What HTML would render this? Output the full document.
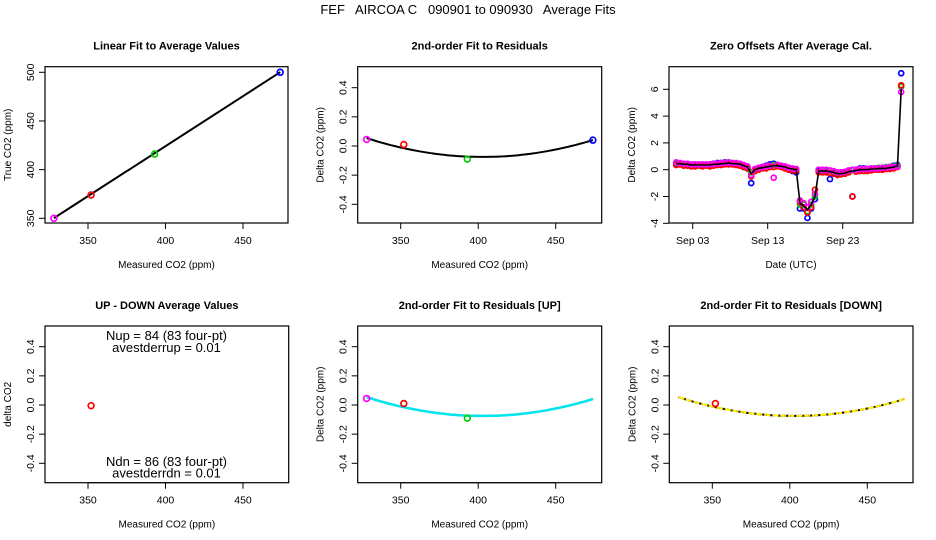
<!DOCTYPE html>
<html><head><meta charset="utf-8">
<style>
html,body{margin:0;padding:0;background:#fff;}
svg{display:block;font-family:"Liberation Sans",Arial,sans-serif;}
</style></head>
<body>
<svg id="chart" width="936" height="540" viewBox="0 0 936 540" xmlns="http://www.w3.org/2000/svg">
<rect width="936" height="540" fill="#fff"/>
<text x="468" y="14" font-size="13" text-anchor="middle" xml:space="preserve">FEF   AIRCOA C   090901 to 090930   Average Fits</text>
</svg>
<script>
// ---- Data ----
const calMeasured = [328, 352, 393, 474];
const calTrue = [350, 374, 416, 500];
const calResid = [0.045, 0.01, -0.09, 0.04];
const calColors = ["#ff00ff", "#ff0000", "#00cc00", "#0000ff"];
const linFit = [13.3, 1.027]; // intercept, slope
const quadFit = [2.3e-5, 403, -0.075]; // a, vertex x, vertex y
const upMeasured = [328, 352, 393];
const upResid = [0.045, 0.01, -0.09];
const dnMeasured = [352];
const dnResid = [0.01];
const udMeasured = [352];
const udDiff = [-0.005];
const co2Ticks = [350, 400, 450];
const trueTicks = [350, 400, 450, 500];
const residTicks = [-0.4, -0.2, 0.0, 0.2, 0.4];
const residTickLabels = ["-0.4", "-0.2", "0.0", "0.2", "0.4"];
const offsetTicks = [-4, -2, 0, 2, 4, 6];
const dateTicks = [3, 13, 23];
const dateTickLabels = ["Sep 03", "Sep 13", "Sep 23"];
const offDays = [0.8,1.3,1.8,2.3,2.8,3.3,3.8,4.3,4.8,5.3,5.8,6.3,6.8,7.3,7.8,8.3,8.8,9.3,9.8,10.3,10.8,11.3,11.8,12.3,12.8,13.3,13.8,14.3,14.8,15.3,15.8,16.3,16.8,17.3,17.8,18.3,18.8,19.3,19.8,20.3,20.8,21.3,21.8,22.3,22.8,23.3,23.8,24.3,24.8,25.3,25.8,26.3,26.8,27.3,27.8,28.3,28.8,29.3,29.8,30.3,30.8];
const offMean = [.45,.45,.4,.4,.35,.35,.35,.35,.35,.35,.4,.4,.45,.45,.5,.45,.45,.4,.3,.2,-.3,0,.1,.15,.2,.25,.3,.3,.25,.2,.1,.05,0,-2.5,-2.7,-3.0,-2.6,-2.0,-.1,-.1,-.1,-.15,-.2,-.3,-.3,-.25,-.15,-.1,-.05,0,0,0,.05,.05,.1,.1,.1,.15,.2,.3,6.0];
const offRed = [.35,.4,.3,.3,.25,.25,.3,.25,.3,.25,.3,.35,.35,.4,.4,.4,.35,.3,.2,.1,-.5,-.1,0,.1,.1,.2,.2,.25,.2,.1,0,-.05,-.1,-2.4,-2.8,-3.2,-2.8,-1.5,-.2,-.2,-.2,-.25,-.3,-.4,-.35,-.3,-.2,-2.0,-.15,-.1,-.1,-.1,-.05,0,0,0,.05,.05,.1,.2,6.3];
const offGreen = [.5,.45,.4,.4,.35,.4,.35,.4,.35,.4,.45,.45,.5,.5,.55,.5,.45,.4,.3,.2,-.2,0,.1,.15,.25,.3,.35,.35,.3,.2,.1,.05,0,-2.6,-2.6,-3.1,-2.6,-2.0,0,0,-.05,-.1,-.15,-.25,-.25,-.2,-.1,-.05,0,.05,.05,.05,.1,.1,.15,.15,.2,.2,.25,.3,6.2];
const offBlue = [.45,.4,.35,.4,.3,.35,.35,.3,.35,.35,.45,.5,.5,.55,.5,.45,.4,.35,.2,.1,-1.0,-.1,.1,.2,.3,.4,.45,.35,.25,.15,.05,-.1,-.2,-2.9,-2.9,-3.6,-2.9,-2.2,-.1,-.15,-.1,-.7,-.2,-.3,-.2,-.2,-.1,-2.0,0,.1,.1,.05,.05,.1,.1,.1,.15,.2,.3,.35,7.2];
const offMagenta = [.55,.5,.45,.45,.4,.4,.4,.4,.4,.4,.45,.45,.5,.5,.55,.5,.5,.45,.35,.25,-.4,.05,.15,.2,.25,.3,-.6,.35,.3,.25,.15,.1,.05,-2.3,-2.5,-2.8,-2.4,-1.8,0,0,0,-.05,-.1,-.2,-.2,-.15,-.05,0,0,.05,.05,.05,.1,.1,.1,.15,.15,.2,.2,.25,5.8];

const svg = document.getElementById('chart');
const NS = "http://www.w3.org/2000/svg";
function mk(tag, attrs, parent) {
  const e = document.createElementNS(NS, tag);
  for (const k in attrs) e.setAttribute(k, attrs[k]);
  (parent || svg).appendChild(e);
  return e;
}
function scale(d0, d1, r0, r1) { return v => r0 + (v - d0) * (r1 - r0) / (d1 - d0); }

function panel(o) {
  const g = mk('g', {});
  
  
  const b = mk('rect', {x:o.L, y:o.T, width:o.R-o.L, height:o.B-o.T, fill:'none', stroke:'#000', 'stroke-width':1.2}, g);
  
  
  const t = mk('text', {x:(o.L+o.R)/2, y:o.T-17, 'font-size':11, 'font-weight':'bold', 'text-anchor':'middle'}, g);
  t.textContent = o.title;
  
  
  const xs = o.xs, ys = o.ys;
  const xa = mk('g', {}, g);
  
  
  mk('line', {x1:xs(o.xt[0]), x2:xs(o.xt[o.xt.length-1]), y1:o.B, y2:o.B, stroke:'#000'}, xa);
  o.xt.forEach((v,i) => {
    mk('line', {x1:xs(v), x2:xs(v), y1:o.B, y2:o.B+6, stroke:'#000'}, xa);
    const tl = mk('text', {x:xs(v), y:o.B+21, 'font-size':10.5, 'text-anchor':'middle'}, xa);
    tl.textContent = o.xl[i];
    
    
  });
  const xt = mk('text', {x:(o.L+o.R)/2, y:o.B+45, 'font-size':10, 'text-anchor':'middle'}, g);
  xt.textContent = o.xlab;
  
  
  const ya = mk('g', {}, g);
  
  
  o.yt.forEach((v,i) => {
    mk('line', {x1:o.L-6, x2:o.L, y1:ys(v), y2:ys(v), stroke:'#000'}, ya);
    const yl = mk('text', {x:o.L-11, y:ys(v), 'font-size':10.5, 'text-anchor':'middle', transform:`rotate(-90 ${o.L-11} ${ys(v)})`}, ya);
    yl.textContent = o.yl[i];
    
    
  });
  const yx = o.L - 34, yy = (o.T+o.B)/2;
  const ytl = mk('text', {x:yx, y:yy, 'font-size':10, 'text-anchor':'middle', transform:`rotate(-90 ${yx} ${yy})`}, g);
  ytl.textContent = o.ylab;
  
  
  return g;
}
function pts(g, xs, ys, X, Y, colors, name, r) {
  X.forEach((v,i) => {
    const c = mk('circle', {cx:xs(v), cy:ys(Y[i]), r:r||2.9, fill:'none', stroke:Array.isArray(colors)?colors[i]:colors, 'stroke-width':1.7}, g);
    
    
  });
}
function quad(x) { return quadFit[0]*(x-quadFit[1])*(x-quadFit[1]) + quadFit[2]; }
function curve(g, xs, ys, stroke, w, dash, name) {
  let d = '';
  for (let x = calMeasured[0]; x <= calMeasured[calMeasured.length-1]; x += 2) d += (d?'L':'M') + xs(x).toFixed(1) + ',' + ys(quad(x)).toFixed(1);
  const p = mk('path', {d, fill:'none', stroke, 'stroke-width':w, 'stroke-dasharray':dash||'none'}, g);
  
  
}
const co2Labels = co2Ticks.map(String);

// Panel 1
{
  const xs = scale(350, 450, 88, 243), ys = scale(350, 500, 218.3, 72.3);
  const g = panel({name:'linear-fit-panel', L:45, R:288, T:66.7, B:223, xs, ys, title:'Linear Fit to Average Values', xlab:'Measured CO2 (ppm)', ylab:'True CO2 (ppm)', xt:co2Ticks, xl:co2Labels, yt:trueTicks, yl:trueTicks.map(String)});
  const x0 = calMeasured[0], x1 = calMeasured[calMeasured.length-1];
  const l = mk('line', {x1:xs(x0), y1:ys(linFit[0]+linFit[1]*x0), x2:xs(x1), y2:ys(linFit[0]+linFit[1]*x1), stroke:'#000', 'stroke-width':2}, g);
  
  
  pts(g, xs, ys, calMeasured, calTrue, calColors, 'calibration-point');
}
// Panel 2
{
  const xs = scale(350, 450, 400.7, 555.7), ys = scale(0.4, -0.4, 87.7, 204.3);
  const g = panel({name:'residual-fit-panel', L:357.7, R:601.7, T:66.7, B:223, xs, ys, title:'2nd-order Fit to Residuals', xlab:'Measured CO2 (ppm)', ylab:'Delta CO2 (ppm)', xt:co2Ticks, xl:co2Labels, yt:residTicks, yl:residTickLabels});
  curve(g, xs, ys, '#000', 2, null, 'quadratic-fit-curve');
  pts(g, xs, ys, calMeasured, calResid, calColors, 'residual-point');
}
// Panel 3
{
  const xs = scale(3, 23, 692.7, 842.7), ys = scale(6, -4, 89.3, 223.3);
  const g = panel({name:'zero-offsets-panel', L:669, R:913, T:66.7, B:223, xs, ys, title:'Zero Offsets After Average Cal.', xlab:'Date (UTC)', ylab:'Delta CO2 (ppm)', xt:dateTicks, xl:dateTickLabels, yt:offsetTicks, yl:offsetTicks.map(String)});
  [[offBlue,'#0000ff','blue-offset-point'],[offGreen,'#00cc00','green-offset-point'],[offRed,'#ff0000','red-offset-point'],[offMagenta,'#ff00ff','magenta-offset-point']].forEach(s => pts(g, xs, ys, offDays, s[0], s[1], s[2], 2.5));
  const d = offDays.map((t,i) => (i?'L':'M') + xs(t).toFixed(1) + ',' + ys(offMean[i]).toFixed(1)).join('');
  const p = mk('path', {d, fill:'none', stroke:'#000', 'stroke-width':1.6}, g);
  
  
}
// Panel 4
{
  const xs = scale(350, 450, 88, 243), ys = scale(0.4, -0.4, 346.7, 463.3);
  const g = panel({name:'up-down-panel', L:45, R:288.7, T:326, B:482.7, xs, ys, title:'UP - DOWN Average Values', xlab:'Measured CO2 (ppm)', ylab:'delta CO2', xt:co2Ticks, xl:co2Labels, yt:residTicks, yl:residTickLabels});
  pts(g, xs, ys, udMeasured, udDiff, '#ff0000', 'up-down-point');
  [['Nup = 84 (83 four-pt)',340,'nup-annotation'],['avestderrup =  0.01',352,'stderr-up-annotation'],['Ndn = 86 (83 four-pt)',466,'ndn-annotation'],['avestderrdn =  0.01',477.5,'stderr-dn-annotation']].forEach(a => {
    const t = mk('text', {x:166.5, y:a[1], 'font-size':13, 'text-anchor':'middle', 'xml:space':'preserve'}, g);
    t.textContent = a[0];
    
    
  });
}
// Panel 5
{
  const xs = scale(350, 450, 400.7, 555.7), ys = scale(0.4, -0.4, 346.7, 463.3);
  const g = panel({name:'residual-up-panel', L:357.7, R:601.7, T:326, B:482.7, xs, ys, title:'2nd-order Fit to Residuals [UP]', xlab:'Measured CO2 (ppm)', ylab:'Delta CO2 (ppm)', xt:co2Ticks, xl:co2Labels, yt:residTicks, yl:residTickLabels});
  curve(g, xs, ys, '#000', 2, null, 'overall-fit-curve');
  curve(g, xs, ys, '#00e5ee', 2.5, null, 'up-fit-curve');
  pts(g, xs, ys, upMeasured, upResid, ['#ff00ff','#ff0000','#00cc00'], 'up-residual-point');
}
// Panel 6
{
  const xs = scale(350, 450, 712.3, 867.3), ys = scale(0.4, -0.4, 346.7, 463.3);
  const g = panel({name:'residual-down-panel', L:669.3, R:913, T:326, B:482.7, xs, ys, title:'2nd-order Fit to Residuals [DOWN]', xlab:'Measured CO2 (ppm)', ylab:'Delta CO2 (ppm)', xt:co2Ticks, xl:co2Labels, yt:residTicks, yl:residTickLabels});
  curve(g, xs, ys, '#000', 2, null, 'overall-fit-curve');
  curve(g, xs, ys, '#ffff00', 2, '6 2', 'down-fit-curve');
  curve(g, xs, ys, '#ff6600', 1, '1 5', 'down-fit-curve-accent');
  pts(g, xs, ys, dnMeasured, dnResid, '#ff0000', 'down-residual-point');
}
</script>
</body></html>
